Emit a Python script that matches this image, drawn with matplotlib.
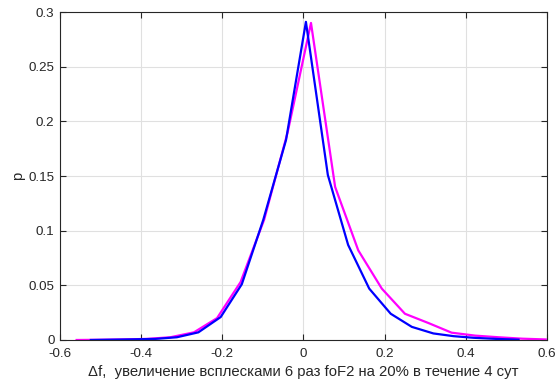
import numpy as np
import matplotlib
matplotlib.use("Agg")
from matplotlib import pyplot as plt

# Распределение приращений df (синяя кривая)
df_blue = [-0.524, -0.471, -0.418, -0.365, -0.312, -0.259, -0.204, -0.152, -0.099, -0.043,
           0.006, 0.060, 0.110, 0.162, 0.215, 0.267, 0.320, 0.370, 0.420, 0.475, 0.530]
p_blue = [0.0, 0.0003, 0.0006, 0.001, 0.0025, 0.007, 0.021, 0.051, 0.110, 0.183,
          0.291, 0.151, 0.087, 0.047, 0.024, 0.012, 0.006, 0.0035, 0.002, 0.001, 0.0003]

# Распределение с всплесками (пурпурная кривая)
df_mag = [-0.559, -0.501, -0.444, -0.386, -0.328, -0.270, -0.213, -0.155, -0.097, -0.039,
          0.0185, 0.078, 0.135, 0.193, 0.250, 0.308, 0.365, 0.423, 0.481, 0.539, 0.597]
p_mag = [0.0, 0.0002, 0.0005, 0.001, 0.0025, 0.007, 0.020, 0.053, 0.110, 0.190,
         0.290, 0.140, 0.082, 0.047, 0.024, 0.0155, 0.0067, 0.004, 0.0025, 0.0012, 0.0005]

xticks = [-0.6, -0.4, -0.2, 0, 0.2, 0.4, 0.6]
yticks = [0, 0.05, 0.1, 0.15, 0.2, 0.25, 0.3]

plt.rcParams['font.family'] = ['Liberation Sans', 'DejaVu Sans']

fig = plt.figure(figsize=(5.57, 3.84), dpi=100)
ax = fig.add_axes([0.1077, 0.1146, 0.8743, 0.8541])

ax.plot(df_mag, p_mag, color='#ff00ff', lw=1.6)
ax.plot(df_blue, p_blue, color='#0000ff', lw=1.6)

ax.set_xlim(-0.6, 0.6)
ax.set_ylim(0, 0.3)
ax.set_xticks(xticks)
ax.set_yticks(yticks)
ax.set_xticklabels(['-0.6', '-0.4', '-0.2', '0', '0.2', '0.4', '0.6'])
ax.set_yticklabels(['0', '0.05', '0.1', '0.15', '0.2', '0.25', '0.3'])

ax.grid(True, color='#e0e0e0', lw=0.8)
ax.set_axisbelow(True)
ax.tick_params(direction='in', top=True, right=True, length=4, width=0.8,
               colors='#262626', labelsize=9.6, labelcolor='#262626')
ax.tick_params(axis='x', pad=5.5)
ax.tick_params(axis='y', pad=4)
for s in ax.spines.values():
    s.set_color('#262626')
    s.set_linewidth(0.8)

ax.set_xlabel('Δf,  увеличение всплесками 6 раз foF2 на 20% в течение 4 сут',
              fontsize=10.7, color='#262626', labelpad=4)
ax.set_ylabel('p', fontsize=10.7, color='#262626', labelpad=2)

fig.savefig('out.png', dpi=100)
